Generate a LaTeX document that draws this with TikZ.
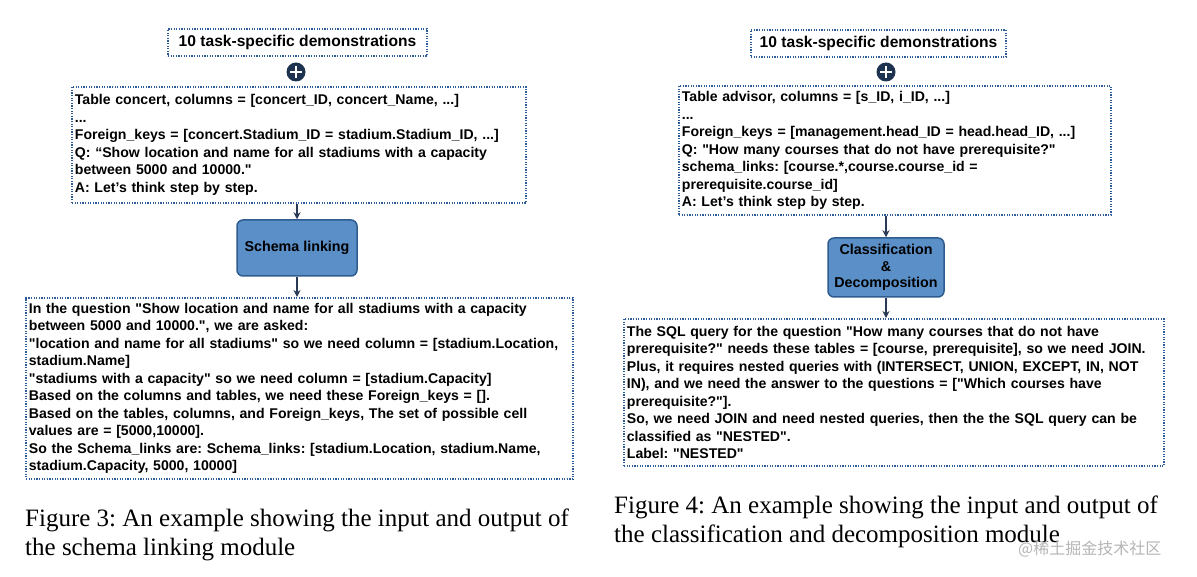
\documentclass[tikz,border=0pt]{standalone}
\usepackage{fontspec}
\setmainfont{Liberation Sans}[Ligatures=TeXOff]
\newfontfamily\capfont{Liberation Serif}
\newfontfamily\cjk{Noto Sans CJK SC}
\usetikzlibrary{arrows.meta}
\frenchspacing
\definecolor{boxblue}{HTML}{2E5C99}
\definecolor{modfill}{HTML}{5B8FC8}
\definecolor{moddraw}{HTML}{2F5C8F}
\definecolor{navy}{HTML}{1E3350}
\definecolor{arrowc}{HTML}{2A3A55}
\definecolor{wm}{HTML}{B5B5B5}
\tikzset{
  dotbox/.style={draw=boxblue, line width=1.8pt, dash pattern=on 1.2pt off 1.4pt,
    inner xsep=3pt, inner ysep=2pt, anchor=north west, align=left,
    font=\frenchspacing\fontsize{14.1}{17.5}\selectfont\bfseries},
  demobox/.style={draw=boxblue, line width=1.8pt, dash pattern=on 1.2pt off 1.4pt,
    inner sep=0pt, font=\fontsize{15.6}{18}\selectfont\bfseries},
  modbox/.style={draw=moddraw, fill=modfill, rounded corners=6pt, line width=1.5pt,
    align=center, inner sep=0pt, font=\fontsize{14.3}{16.5}\selectfont\bfseries, text=black},
  plusnode/.style={circle, fill=navy, minimum size=19pt, inner sep=0pt,
    path picture={\draw[white, line width=2.4pt]
      ([xshift=-6pt]path picture bounding box.center) -- ([xshift=6pt]path picture bounding box.center)
      ([yshift=-6pt]path picture bounding box.center) -- ([yshift=6pt]path picture bounding box.center);}},
  arr/.style={-{Stealth[length=7pt,width=7pt]}, line width=1.5pt, draw=arrowc},
  caption/.style={anchor=base west, align=left, inner sep=0pt,
    font=\frenchspacing\capfont\fontsize{25}{28.5}\selectfont},
}
\begin{document}
\begin{tikzpicture}[x=1pt,y=-1pt]
\useasboundingbox (0,0) rectangle (1197,577);
% ---------------- left panel ----------------
\node[demobox, minimum width=259pt, minimum height=27pt] (demoL) at (297.5,42.5) {10 task-specific demonstrations};
\node[plusnode] (plusL) at (296,72) {};
\node[dotbox, text width=448pt, minimum height=116pt] (inL) at (71,86) {Table concert, columns = [concert\_ID, concert\_Name, ...]\\
...\\
Foreign\_keys = [concert.Stadium\_ID = stadium.Stadium\_ID, ...]\\
Q: “Show location and name for all stadiums with a capacity\\
between 5000 and 10000."\\
A: Let’s think step by step.};
\node[modbox, minimum width=120pt, minimum height=56pt] (modL) at (297,248) {Schema linking};
\node[dotbox, text width=541pt, minimum height=181pt] (outL) at (25,297) {In the question "Show location and name for all stadiums with a capacity\\
between 5000 and 10000.", we are asked:\\
"location and name for all stadiums" so we need column = [stadium.Location,\\
stadium.Name]\\
"stadiums with a capacity" so we need column = [stadium.Capacity]\\
Based on the columns and tables, we need these Foreign\_keys = [].\\
Based on the tables, columns, and Foreign\_keys, The set of possible cell\\
values are = [5000,10000].\\
So the Schema\_links are: Schema\_links: [stadium.Location, stadium.Name,\\
stadium.Capacity, 5000, 10000]};
\draw[arr] (inL.south -| modL.north) -- (modL.north);
\draw[arr] (modL.south) -- (outL.north -| modL.south);
\node[caption] (capL) at (25,555) {Figure 3: An example showing the input and output of\\
the schema linking module};
% ---------------- right panel ----------------
\node[demobox, minimum width=255pt, minimum height=27pt] (demoR) at (878.5,43.5) {10 task-specific demonstrations};
\node[plusnode] (plusR) at (886,72) {};
\node[dotbox, text width=426pt, minimum height=129pt] (inR) at (678,85) {Table advisor, columns = [s\_ID, i\_ID, ...]\\
...\\
Foreign\_keys = [management.head\_ID = head.head\_ID, ...]\\
Q: "How many courses that do not have prerequisite?"\\
schema\_links: [course.*,course.course\_id =\\
prerequisite.course\_id]\\
A: Let’s think step by step.};
\node[modbox, minimum width=116pt, minimum height=59pt] (modR) at (886,267.5) {Classification\\ \&\\ Decomposition};
\node[dotbox, text width=534pt, minimum height=147pt] (outR) at (623,318) {The SQL query for the question "How many courses that do not have\\
prerequisite?" needs these tables = [course, prerequisite], so we need JOIN.\\
Plus, it requires nested queries with (INTERSECT, UNION, EXCEPT, IN, NOT\\
IN), and we need the answer to the questions = ["Which courses have\\
prerequisite?"].\\
So, we need JOIN and need nested queries, then the the SQL query can be\\
classified as "NESTED".\\
Label: "NESTED"};
\draw[arr] (inR.south -| modR.north) -- (modR.north);
\draw[arr] (modR.south) -- (outR.north -| modR.south);
\node[caption] (capR) at (614,542) {Figure 4: An example showing the input and output of\\
the classification and decomposition module};
\node[anchor=west, inner sep=0pt, text=wm, font=\cjk\fontsize{16}{18}\selectfont] (wmark) at (1018,549) {@稀土掘金技术社区};
\end{tikzpicture}
\end{document}
